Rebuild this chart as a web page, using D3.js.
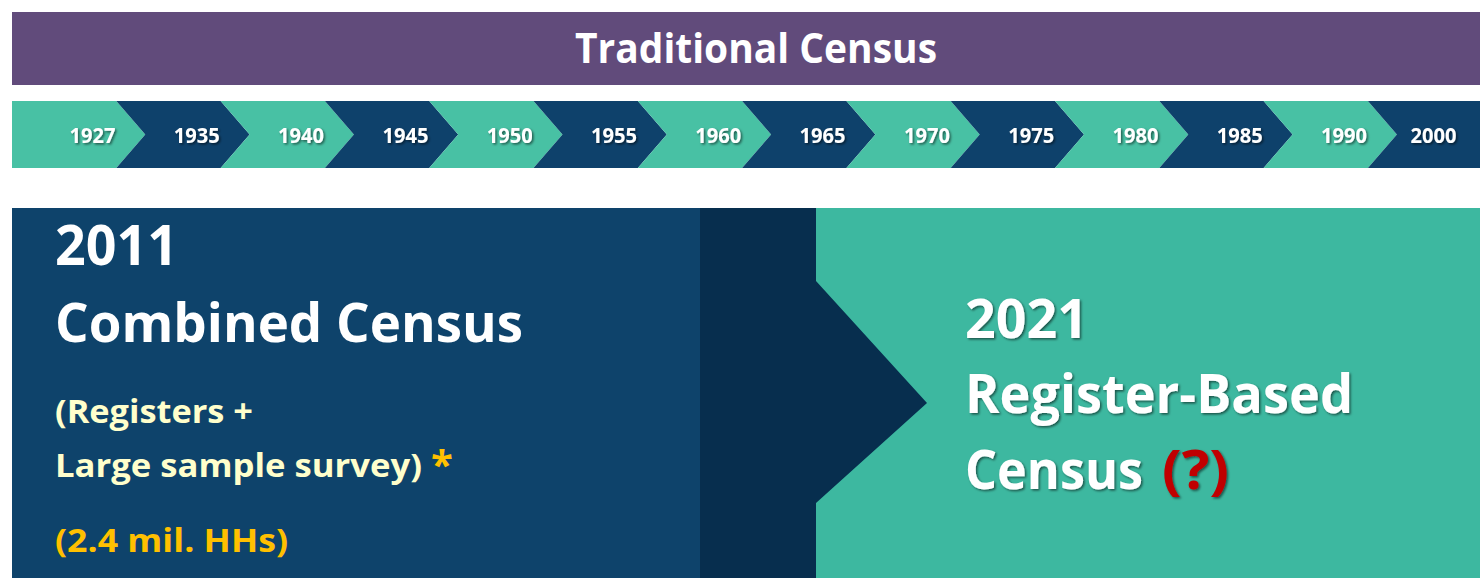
<!DOCTYPE html>
<html>
<head>
<meta charset="utf-8">
<script src="https://cdn.jsdelivr.net/npm/d3@7"></script>
<style>
  html, body { margin: 0; padding: 0; background: #ffffff; }
  svg { display: block; }
  text { font-family: "Open Sans", "DejaVu Sans", sans-serif; font-weight: bold; }
</style>
</head>
<body>
<div id="chart"></div>
<script>
// timeline data
const years = ["1927","1935","1940","1945","1950","1955","1960","1965","1970","1975","1980","1985","1990","2000"];
const titleText = "Traditional Census";
const leftLines = ["2011", "Combined Census", "(Registers +", "Large sample survey)", "(2.4 mil. HHs)"];
const rightLines = ["2021", "Register-Based", "Census"];

const W = 1480, H = 578;

const svg = d3.select("#chart").append("svg")
    .attr("width", W)
    .attr("height", H);

// soft drop shadow used on the timeline and right panel text
const defs = svg.append("defs");
defs.append("filter")
    .attr("id", "shadow")
    .attr("x", "-10%").attr("y", "-20%")
    .attr("width", "130%").attr("height", "150%")
    .append("feDropShadow")
    .attr("dx", 1.5).attr("dy", 1.5)
    .attr("stdDeviation", 1)
    .attr("flood-color", "#000")
    .attr("flood-opacity", 0.55);

// title band
svg.append("rect")
    .attr("x", 12).attr("y", 12)
    .attr("width", W - 12).attr("height", 73)
    .attr("fill", "#614b7b");

svg.append("text")
    .attr("x", 756).attr("y", 63)
    .attr("text-anchor", "middle")
    .attr("font-size", 42)
    .attr("textLength", 362).attr("lengthAdjust", "spacingAndGlyphs")
    .attr("fill", "#fff")
    .text(titleText);

// chevron timeline
const stripTop = 101, stripBottom = 168, mid = (stripTop + stripBottom) / 2, tip = 29;

const x = d3.scaleBand()
    .domain(years)
    .range([12, 12 + years.length * 104.3])
    .padding(0);

const bw = x.bandwidth();

const seg = svg.append("g").selectAll("g")
    .data(years)
    .enter().append("g");

seg.append("path")
    .attr("d", (d, i) => {
        let x0 = x(d), x1 = x0 + bw;
        if (i === years.length - 1) {
            // last piece runs off the right edge
            return "M" + x0 + "," + stripTop + "L" + W + "," + stripTop + "L" + W + "," + stripBottom +
                "L" + x0 + "," + stripBottom + "L" + (x0 + tip) + "," + mid + "Z";
        }
        let p = "M" + x0 + "," + stripTop + "L" + x1 + "," + stripTop + "L" + (x1 + tip) + "," + mid +
            "L" + x1 + "," + stripBottom + "L" + x0 + "," + stripBottom;
        if (i > 0) p += "L" + (x0 + tip) + "," + mid;
        return p + "Z";
    })
    .attr("fill", (d, i) => i % 2 === 0 ? "#48c1a4" : "#0e416b");

seg.append("text")
    .attr("x", (d, i) => i === years.length - 1 ? (x(d) + tip + W) / 2 - 5 : x(d) + 80.5)
    .attr("y", 142.5)
    .attr("text-anchor", "middle")
    .attr("font-size", 21)
    .attr("textLength", 46).attr("lengthAdjust", "spacingAndGlyphs")
    .attr("fill", "#fff")
    .attr("filter", "url(#shadow)")
    .text(d => d);

// lower panels
const lowTop = 208;

svg.append("rect")
    .attr("x", 12).attr("y", lowTop)
    .attr("width", 700 - 12).attr("height", H - lowTop)
    .attr("fill", "#0e436b");

svg.append("rect")
    .attr("x", 816).attr("y", lowTop)
    .attr("width", W - 816).attr("height", H - lowTop)
    .attr("fill", "#3db8a0");

// dark arrow between the two panels
svg.append("path")
    .attr("d", "M700," + lowTop + "L816," + lowTop + "L816,281L927,403L816,503L816," + H + "L700," + H + "Z")
    .attr("fill", "#072e4e");

// left panel text
const left = svg.append("g");

const leftSpec = [
    { y: 265, size: 56, len: 123, fill: "#ffffff" },
    { y: 342, size: 53, len: 468, fill: "#ffffff" },
    { y: 423, size: 33, len: 198, fill: "#ffffcc" },
    { y: 477, size: 33, len: 367, fill: "#ffffcc" },
    { y: 552, size: 33, len: 233, fill: "#ffc000" }
];

leftLines.forEach((line, i) => {
    let s = leftSpec[i];
    left.append("text")
        .attr("x", 55).attr("y", s.y)
        .attr("font-size", s.size)
        .attr("textLength", s.len).attr("lengthAdjust", "spacingAndGlyphs")
        .attr("fill", s.fill)
        .text(line);
});

left.append("text")
    .attr("x", 431).attr("y", 479)
    .attr("font-size", 40)
    .attr("fill", "#ffc000")
    .text("*");

// right panel text
const right = svg.append("g").attr("filter", "url(#shadow)");

const rightSpec = [
    { y: 338, size: 53, len: 123 },
    { y: 413, size: 53, len: 388 },
    { y: 489, size: 53, len: 178 }
];

rightLines.forEach((line, i) => {
    let s = rightSpec[i];
    right.append("text")
        .attr("x", 965).attr("y", s.y)
        .attr("font-size", s.size)
        .attr("textLength", s.len).attr("lengthAdjust", "spacingAndGlyphs")
        .attr("fill", "#fff")
        .text(line);
});

right.append("text")
    .attr("x", 1162).attr("y", 489)
    .attr("font-size", 53)
    .attr("textLength", 67).attr("lengthAdjust", "spacingAndGlyphs")
    .attr("fill", "#c00000")
    .text("(?)");
</script>
</body>
</html>
